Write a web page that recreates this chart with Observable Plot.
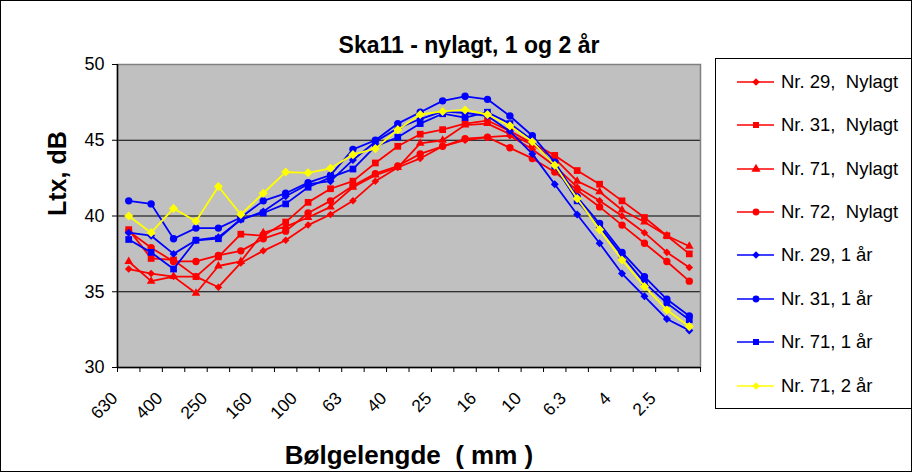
<!DOCTYPE html>
<html><head><meta charset="utf-8">
<script src="https://cdn.jsdelivr.net/npm/d3@7"></script>
<script src="https://cdn.jsdelivr.net/npm/@observablehq/plot@0.6"></script>
<style>
body{margin:0;background:#fff;font-family:Arial,"Liberation Sans",sans-serif;}
#wrap{position:relative;width:912px;height:472px;overflow:hidden;background:#fff;}
#wrap svg.plot{position:absolute;left:0;top:0;}
#border{position:absolute;left:0;top:0;width:912px;height:472px;box-sizing:border-box;border:1px solid #000;pointer-events:none;}
#legend{position:absolute;left:715px;top:58px;width:197px;height:351px;box-sizing:border-box;border:1px solid #000;background:#fff;}
.row{position:absolute;left:0;height:24px;display:flex;align-items:center;}
.row span{font-size:18.5px;white-space:pre;margin-left:5px;color:#000;font-family:Arial,"Liberation Sans",sans-serif;}
</style></head><body><div id="wrap"></div>
<script>
// ---- data ----
const categories = ["630","500","400","315","250","200","160","125","100","80","63","50","40","31.5","25","20","16","12.5","10","8","6.3","5","4","3.15","2.5","2"];
const tickLabels = ["630","400","250","160","100","63","40","25","16","10","6.3","4","2.5"];
const yTicks = [30, 35, 40, 45, 50];
const seriesNames = ["Nr. 29,  Nylagt","Nr. 31,  Nylagt","Nr. 71,  Nylagt","Nr. 72,  Nylagt","Nr. 29, 1 år","Nr. 31, 1 år","Nr. 71, 1 år","Nr. 71, 2 år"];
const nr29Nylagt = [36.5,36.2,36.0,36.0,35.3,36.9,37.7,38.4,39.4,40.1,41.0,42.3,43.2,43.8,44.6,45.0,45.2,45.3,44.4,43.3,41.9,41.0,40.0,38.9,37.6,36.6];
const nr31Nylagt = [39.1,37.2,37.1,36.0,37.3,38.8,38.7,39.6,40.9,41.8,42.3,43.5,44.6,45.4,45.7,46.1,46.3,45.6,44.8,44.0,43.0,42.1,41.0,39.9,38.7,37.5];
const nr71Nylagt = [37.0,35.7,36.0,34.9,36.7,37.0,38.9,39.3,39.9,40.6,41.9,42.7,43.2,44.8,45.0,46.0,46.1,45.4,44.7,43.8,42.3,41.6,40.4,39.6,38.7,38.0];
const nr72Nylagt = [39.0,37.9,37.0,37.0,37.4,37.7,38.5,39.0,40.2,41.0,42.0,42.8,43.3,44.1,44.6,45.1,45.2,44.5,43.8,42.9,41.7,40.6,39.4,38.2,37.0,35.7];
const nr29Aar1 = [38.9,38.7,37.5,38.4,38.6,39.75,40.3,41.3,42.1,42.3,43.7,44.9,45.8,46.4,46.9,46.8,46.6,45.6,44.1,42.1,40.1,38.2,36.2,34.7,33.2,32.45];
const nr31Aar1 = [41.0,40.8,38.5,39.2,39.2,39.9,41.0,41.5,42.2,42.7,44.4,45.0,46.1,46.85,47.6,47.9,47.7,46.6,45.3,43.55,41.25,39.5,37.6,36.0,34.5,33.4];
const nr71Aar1 = [38.45,37.6,36.5,38.4,38.5,39.8,40.2,40.8,41.9,42.55,43.1,44.6,45.2,46.1,46.75,46.5,46.85,46.1,45.0,43.3,41.0,39.3,37.4,35.6,34.25,33.15];
const nr71Aar2 = [40.0,38.9,40.5,39.65,41.95,40.1,41.5,42.9,42.85,43.15,44.05,44.45,45.7,46.7,46.9,47.0,46.7,45.95,44.9,43.35,41.15,39.1,37.1,35.35,33.8,32.7];
const seriesValues = [nr29Nylagt,nr31Nylagt,nr71Nylagt,nr72Nylagt,nr29Aar1,nr31Aar1,nr71Aar1,nr71Aar2];
const seriesColors = ["#ff0000","#ff0000","#ff0000","#ff0000","#0000ff","#0000ff","#0000ff","#ffff00"];
const seriesSymbols = ["diamond2","square","triangle","circle","diamond2","circle","square","diamond2"];
const seriesR = [3.4,3.8,3.2,3.7,3.6,3.7,3.8,4.1];
const titleText = "Ska11 - nylagt, 1 og 2 år";
const yLabel = "Ltx, dB";
const xLabel = "Bølgelengde  ( mm )";

// ---- build ----
const n = categories.length;
const labelRows = categories.map((c, i) => ({i, label: c})).filter(d => tickLabels.includes(d.label));
const boundaries = d3.range(n + 1).map(k => k - 0.5);
const F = 'Arial, "Liberation Sans", sans-serif';

const seriesMarks = [];
seriesNames.forEach((name, k) => {
  const rows = seriesValues[k].map((v, i) => ({i, v, name}));
  seriesMarks.push(Plot.line(rows, {x: "i", y: "v", stroke: seriesColors[k], strokeWidth: 1.8}));
  seriesMarks.push(Plot.dot(rows, {x: "i", y: "v", symbol: () => seriesSymbols[k], fill: seriesColors[k], stroke: "none", r: seriesR[k]}));
});

const chart = Plot.plot({
  width: 912, height: 472,
  marginLeft: 117, marginRight: 212, marginTop: 64, marginBottom: 105,
  style: {fontFamily: F, color: "#000", background: "transparent", overflow: "visible"},
  x: {type: "linear", domain: [-0.5, n - 0.5], axis: null},
  y: {domain: [yTicks[0], yTicks[yTicks.length - 1]], axis: null},
  symbol: {type: "identity"},
  marks: [
    Plot.frame({fill: "#c0c0c0", stroke: "none"}),
    Plot.gridY(yTicks, {stroke: "#000", strokeOpacity: 1, strokeWidth: 1}),
    Plot.frame({stroke: "#808080", strokeWidth: 1.5}),
    Plot.ruleX([-0.5], {stroke: "#000", strokeWidth: 1.5}),
    Plot.ruleY([yTicks[0]], {stroke: "#000", strokeWidth: 1.5}),
    Plot.axisY({ticks: yTicks, tickSize: 5, tickPadding: 8, fontSize: 18, label: null}),
    Plot.axisX({ticks: boundaries, tickSize: 5, tickFormat: () => "", label: null}),
    Plot.text(labelRows, {x: "i", text: "label", frameAnchor: "bottom", rotate: -45, textAnchor: "end", lineAnchor: "middle", dx: -14, dy: 28, fontSize: 17.5, fill: "#000"}),
    ...seriesMarks,
    Plot.text([titleText], {text: d => d, frameAnchor: "top", dx: 60, dy: -28, fontSize: 23, fontWeight: "bold", fill: "#000"}),
    Plot.text([yLabel], {text: d => d, frameAnchor: "left", dx: -60, rotate: -90, fontSize: 25, fontWeight: "bold", fill: "#000"}),
    Plot.text([xLabel], {text: d => d, frameAnchor: "bottom", dy: 96, fontSize: 26, fontWeight: "bold", fill: "#000"})
  ]
});
const wrap = document.getElementById("wrap");
wrap.appendChild(chart);

// ---- legend ----
const legend = document.createElement("div");
legend.id = "legend";
const symMap = {diamond2: d3.symbolDiamond2, square: d3.symbolSquare, triangle: d3.symbolTriangle, circle: d3.symbolCircle};
seriesNames.forEach((name, k) => {
  const row = document.createElement("div");
  row.className = "row";
  row.style.top = (22.7 + 43.4 * k - 12) + "px";
  const svg = d3.create("svg").attr("width", 60).attr("height", 24);
  svg.append("line").attr("x1", 21).attr("x2", 58).attr("y1", 12).attr("y2", 12).attr("stroke", seriesColors[k]).attr("stroke-width", 1.5);
  svg.append("path").attr("transform", "translate(40,12)").attr("d", d3.symbol(symMap[seriesSymbols[k]], 36)()).attr("fill", seriesColors[k]);
  row.appendChild(svg.node());
  const span = document.createElement("span");
  span.textContent = name;
  row.appendChild(span);
  legend.appendChild(row);
});
wrap.appendChild(legend);
const border = document.createElement("div");
border.id = "border";
wrap.appendChild(border);
</script>
</body></html>
